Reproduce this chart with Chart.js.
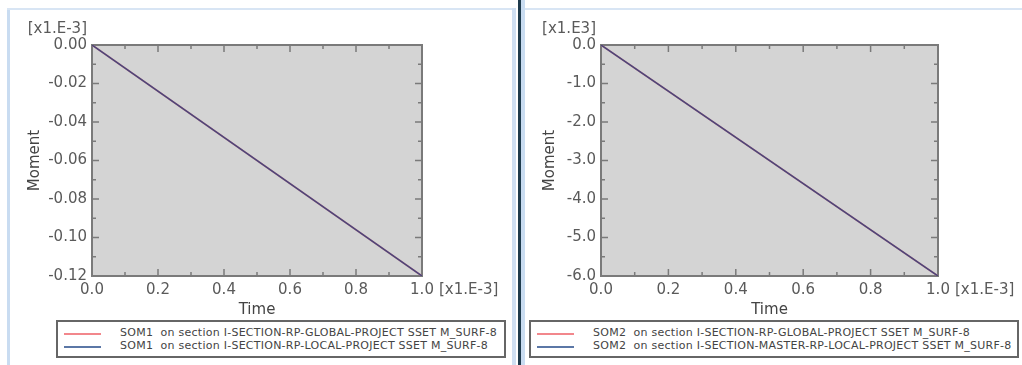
<!DOCTYPE html>
<html lang="pt">
<head>
<meta charset="UTF-8">
<title>Moment x Time</title>
<style>
    * { box-sizing: border-box; }
    body { margin: 0; width: 1022px; height: 365px; background: #fff; position: relative; overflow: hidden;
           font-family: "DejaVu Sans", Verdana, sans-serif; }
    .painel { position: absolute; top: 0; height: 365px; }
    #painel1 { left: 0; width: 517px; }
    #painel2 { left: 521px; width: 501px; }
    .borda { position: absolute; background: #c9dcf1; }
    .separador { position: absolute; left: 518px; top: 0; width: 3px; height: 365px; background: #1f3b4d; }
    .legenda { position: absolute; top: 320px; height: 38px; border: 2px solid #666; background: #fff;
               font-size: 11px; letter-spacing: .25px; color: #444; }
    .traco { position: absolute; height: 2px; width: 37px; }
    .texto { position: absolute; white-space: nowrap; line-height: 13px; }
    canvas { position: absolute; left: 0; top: 0; }
</style>
</head>
<body>
    <div class="borda" style="left:7px; top:8px; width:3px; height:357px;"></div>
    <div class="borda" style="left:7px; top:8px; width:506px; height:2px; background:#d8e5f4;"></div>
    <div class="borda" style="left:512px; top:8px; width:4px; height:357px; background:#cfdff2;"></div>
    <div class="separador"></div>
    <div class="borda" style="left:521px; top:8px; width:501px; height:2px; background:#d8e5f4;"></div>
    <div class="borda" style="left:521px; top:0; width:4px; height:365px; background:#c9dcf1;"></div>

    <div class="painel" id="painel1">
        <canvas id="grafico1" width="517" height="365"></canvas>
        <div class="legenda" style="left:56px; width:450px;">
            <div class="traco" style="left:6px; top:11px; background:#f2878c;"></div>
            <div class="texto" style="left:62px; top:4px;">SOM1&nbsp; on section I-SECTION-RP-GLOBAL-PROJECT SSET M_SURF-8</div>
            <div class="traco" style="left:6px; top:24px; background:#5b77a6;"></div>
            <div class="texto" style="left:62px; top:17px;">SOM1&nbsp; on section I-SECTION-RP-LOCAL-PROJECT SSET M_SURF-8</div>
        </div>
    </div>

    <div class="painel" id="painel2">
        <canvas id="grafico2" width="501" height="365"></canvas>
        <div class="legenda" style="left:8px; width:490px;">
            <div class="traco" style="left:6px; top:11px; background:#f2878c;"></div>
            <div class="texto" style="left:62px; top:4px;">SOM2&nbsp; on section I-SECTION-RP-GLOBAL-PROJECT SSET M_SURF-8</div>
            <div class="traco" style="left:6px; top:24px; background:#5b77a6;"></div>
            <div class="texto" style="left:62px; top:17px;">SOM2&nbsp; on section I-SECTION-MASTER-RP-LOCAL-PROJECT SSET M_SURF-8</div>
        </div>
    </div>

<script src="https://cdn.jsdelivr.net/npm/chart.js"></script>
<script>
    // dados
    const tempo = [0.0, 1.0];
    const som1Global = [0.0, -0.12];
    const som1Local = [0.0, -0.12];
    const som2Global = [0.0, -6.0];
    const som2Local = [0.0, -6.0];

    const ticksX = [0.0, 0.2, 0.4, 0.6, 0.8, 1.0];
    const ticksY1 = [0.0, -0.02, -0.04, -0.06, -0.08, -0.10, -0.12];
    const ticksY2 = [0.0, -1.0, -2.0, -3.0, -4.0, -5.0, -6.0];

    const fonte = { family: '"DejaVu Sans", Verdana, sans-serif', size: 15 };

    // fundo cinza, moldura e ticks para dentro nos 4 lados
    const moldura = {
        id: 'moldura',
        beforeDraw(chart) {
            const { ctx, chartArea: a } = chart;
            ctx.save();
            ctx.fillStyle = '#d4d4d4';
            ctx.fillRect(a.left, a.top, a.right - a.left, a.bottom - a.top);
            ctx.restore();
        },
        beforeDatasetsDraw(chart, args, opts) {
            const { ctx, chartArea: a, scales: { x, y } } = chart;
            ctx.save();
            ctx.strokeStyle = '#7a7a7a';
            ctx.lineWidth = 1.5;

            const passoX = (ticksX[1] - ticksX[0]) / 2;
            const nx = Math.round((x.max - x.min) / passoX);
            for (let i = 0; i <= nx; i++) {
                const px = x.getPixelForValue(x.min + i * passoX);
                const t = i % 2 === 0 ? 7 : 4;
                ctx.beginPath();
                ctx.moveTo(px, a.bottom); ctx.lineTo(px, a.bottom - t);
                ctx.moveTo(px, a.top); ctx.lineTo(px, a.top + t);
                ctx.stroke();
            }
            const passoY = Math.abs(opts.ticksY[0] - opts.ticksY[1]) / 2;
            const ny = Math.round((y.max - y.min) / passoY);
            for (let i = 0; i <= ny; i++) {
                const py = y.getPixelForValue(y.min + i * passoY);
                const t = i % 2 === 0 ? 7 : 4;
                ctx.beginPath();
                ctx.moveTo(a.left, py); ctx.lineTo(a.left + t, py);
                ctx.moveTo(a.right, py); ctx.lineTo(a.right - t, py);
                ctx.stroke();
            }
            ctx.lineWidth = 2;
            ctx.strokeRect(a.left, a.top, a.right - a.left, a.bottom - a.top);

            // multiplicadores dos eixos
            ctx.fillStyle = '#5a5a5a';
            ctx.font = '15px ' + fonte.family;
            ctx.textBaseline = 'middle';
            ctx.textAlign = 'right';
            ctx.fillText(opts.multY, a.left - 5, 29);
            ctx.textAlign = 'left';
            ctx.fillText('[x1.E-3]', a.right + 17, a.bottom + 14);
            ctx.restore();
        }
    };

    function criarGrafico(id, serieGlobal, serieLocal, ticksY, casas, multY, esq, dir, padTitulo) {
        return new Chart(document.getElementById(id), {
            type: 'scatter',
            data: {
                datasets: [
                    {
                        label: 'global',
                        data: tempo.map((t, i) => ({ x: t, y: serieGlobal[i] })),
                        borderColor: '#e88a90',
                        borderWidth: 1.6,
                        showLine: true,
                        pointRadius: 0,
                        order: 1
                    },
                    {
                        label: 'local',
                        data: tempo.map((t, i) => ({ x: t, y: serieLocal[i] })),
                        borderColor: '#4d4679',
                        borderWidth: 1.6,
                        showLine: true,
                        pointRadius: 0,
                        order: 0
                    }
                ]
            },
            options: {
                responsive: false,
                animation: false,
                layout: { padding: { left: 0, top: 45, right: dir, bottom: 44 } },
                plugins: {
                    legend: { display: false },
                    tooltip: { enabled: false },
                    moldura: { ticksY: ticksY, multY: multY }
                },
                scales: {
                    x: {
                        type: 'linear',
                        min: ticksX[0],
                        max: ticksX[ticksX.length - 1],
                        afterBuildTicks: s => { s.ticks = ticksX.map(v => ({ value: v })); },
                        afterFit: s => { s.height = 45; },
                        grid: { display: false, drawTicks: false },
                        border: { display: false },
                        ticks: { padding: 5, color: '#5a5a5a', font: fonte, maxRotation: 0,
                                 callback: v => v.toFixed(1) },
                        title: { display: true, text: 'Time', color: '#444', font: fonte,
                                 padding: { top: 0, bottom: 2 } }
                    },
                    y: {
                        type: 'linear',
                        min: ticksY[ticksY.length - 1],
                        max: ticksY[0],
                        afterBuildTicks: s => { s.ticks = ticksY.map(v => ({ value: v })); },
                        afterFit: s => { s.width = esq; },
                        grid: { display: false, drawTicks: false },
                        border: { display: false },
                        ticks: { padding: 5, color: '#5a5a5a', font: fonte,
                                 callback: v => v.toFixed(casas) },
                        title: { display: true, text: 'Moment', color: '#444', font: fonte,
                                 padding: { top: padTitulo, bottom: 0 } }
                    }
                }
            },
            plugins: [moldura]
        });
    }

    criarGrafico('grafico1', som1Global, som1Local, ticksY1, 2, '[x1.E-3]', 92, 95, 26);
    criarGrafico('grafico2', som2Global, som2Local, ticksY2, 1, '[x1.E3]', 80, 84, 20);
</script>
</body>
</html>
